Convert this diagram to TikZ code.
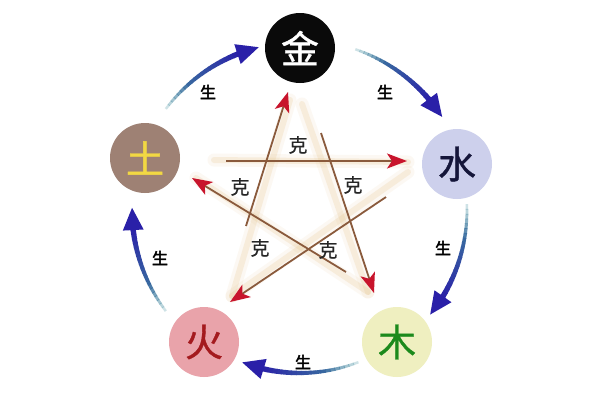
\documentclass[tikz,border=0pt]{standalone}
\usepackage{fontspec}
\newfontfamily\cjk[FakeBold=1]{Noto Sans CJK SC}
\newfontfamily\cjkk[FakeBold=0.6]{Noto Sans CJK SC}
\newfontfamily\cjkb[FakeBold=2.5]{Noto Sans CJK SC}
\usetikzlibrary{arrows.meta}
\definecolor{JinC}{HTML}{0A0A0A}
\definecolor{ShuiC}{HTML}{CDD0EC}
\definecolor{ShuiT}{HTML}{15163A}
\definecolor{TuC}{HTML}{9E8174}
\definecolor{TuT}{HTML}{F2D843}
\definecolor{HuoC}{HTML}{E9A3AA}
\definecolor{HuoT}{HTML}{A41A1E}
\definecolor{MuC}{HTML}{EFEFC0}
\definecolor{MuT}{HTML}{1C8A1C}
\definecolor{DBlue}{HTML}{2A20A8}
\definecolor{Teal}{HTML}{3F8E9C}
\definecolor{KeRed}{HTML}{C8142C}
\definecolor{KeLine}{HTML}{8A5A3C}
\definecolor{Blur}{HTML}{E6C48A}
\begin{document}
\begin{tikzpicture}[x=1pt,y=-1pt,
  elem/.style={circle,minimum size=70pt,inner sep=0pt,font=\cjk\fontsize{38}{38}\selectfont},
  sheng/.style={font=\cjkb\fontsize{16}{16}\selectfont,text=black,inner sep=0pt},
  kelab/.style={font=\cjkk\fontsize{19}{19}\selectfont,text=black!85,inner sep=0pt},
  keline/.style={draw=KeLine,line width=1.8pt,-{Stealth[length=20pt,width=15pt,inset=5pt,color=KeRed]}},
  blurA/.style={draw=Blur,line width=13pt,opacity=0.10,line cap=round},
  blurB/.style={draw=Blur,line width=6pt,opacity=0.22,line cap=round}]
\fill[white] (0,0) rectangle (600,400);
\useasboundingbox (0,0) rectangle (600,400);

% sheng arcs (gradient)
\foreach \a/\b/\r in {143/104/168, 71/33/170, 2/-39/167, -69/-111/163, -143/-181/168}{
  \pgfmathsetmacro{\e}{\b+8}
  \foreach \i in {0,...,19}{
    \pgfmathsetmacro{\tA}{\a+(\e-\a)*\i/20}
    \pgfmathsetmacro{\tB}{\a+(\e-\a)*(\i+1.15)/20}
    \pgfmathtruncatemacro{\p}{\i*5}
    \pgfmathsetmacro{\w}{2.5+3*\i/20}
    \pgfmathsetmacro{\o}{min(1,0.25+\i/9)}
    \draw[line width=\w pt, color=DBlue!\p!Teal, opacity=\o]
      ({300+\r*cos(\tA)},{210-\r*sin(\tA)}) -- ({300+\r*cos(\tB)},{210-\r*sin(\tB)});
  }
  \draw[line width=5.5pt, DBlue, -{Triangle[length=23pt,width=19pt]}]
    ({300+\r*cos(\e)},{210-\r*sin(\e)}) -- ({300+\r*cos(\b)},{210-\r*sin(\b)});
}

% blurred star
\coordinate (bT) at (302,104);
\coordinate (bT2) at (290,100);
\coordinate (bR) at (408,162);
\coordinate (bL) at (214,160);
\coordinate (bBR) at (368,292);
\coordinate (bBL) at (232,296);
\coordinate (bL2) at (196,178);
\coordinate (bR2) at (408,172);
\foreach \s in {blurA,blurB}{
  \draw[\s] (bL) -- (bR);
  \draw[\s] (bT) -- (bBR);
  \draw[\s] (bT2) -- (bBL);
  \draw[\s] (bL2) -- (bBR);
  \draw[\s] (bBL) -- (bR2);
}

% ke arrows
\coordinate (k1s) at (246,226); \coordinate (k1e) at (288,92);
\coordinate (k2s) at (226,161); \coordinate (k2e) at (407,161);
\coordinate (k3s) at (321,133); \coordinate (k3e) at (374,293);
\coordinate (k4s) at (346,272); \coordinate (k4e) at (192,178);
\coordinate (k5s) at (386,197); \coordinate (k5e) at (230,302);
\draw[keline] (k1s) -- (k1e);
\draw[keline] (k2s) -- (k2e);
\draw[keline] (k3s) -- (k3e);
\draw[keline] (k4s) -- (k4e);
\draw[keline] (k5s) -- (k5e);

\node[kelab] (ke1) at (298,145) {克};
\node[kelab] (ke2) at (240,187) {克};
\node[kelab] (ke3) at (353,185) {克};
\node[kelab] (ke4) at (260,248) {克};
\node[kelab] (ke5) at (328,250) {克};

\node[sheng] (s1) at (208,92) {生};
\node[sheng] (s2) at (385,92) {生};
\node[sheng] (s3) at (443,248) {生};
\node[sheng] (s4) at (303,362) {生};
\node[sheng] (s5) at (160,258) {生};

% elements
\node[elem,fill=JinC,text=white] (jin) at (300,48) {金};
\node[elem,fill=ShuiC,text=ShuiT] (shui) at (457,164) {水};
\node[elem,fill=MuC,text=MuT] (mu) at (397,342) {木};
\node[elem,fill=HuoC,text=HuoT] (huo) at (204,342) {火};
\node[elem,fill=TuC,text=TuT] (tu) at (145,158) {土};
\end{tikzpicture}
\end{document}
